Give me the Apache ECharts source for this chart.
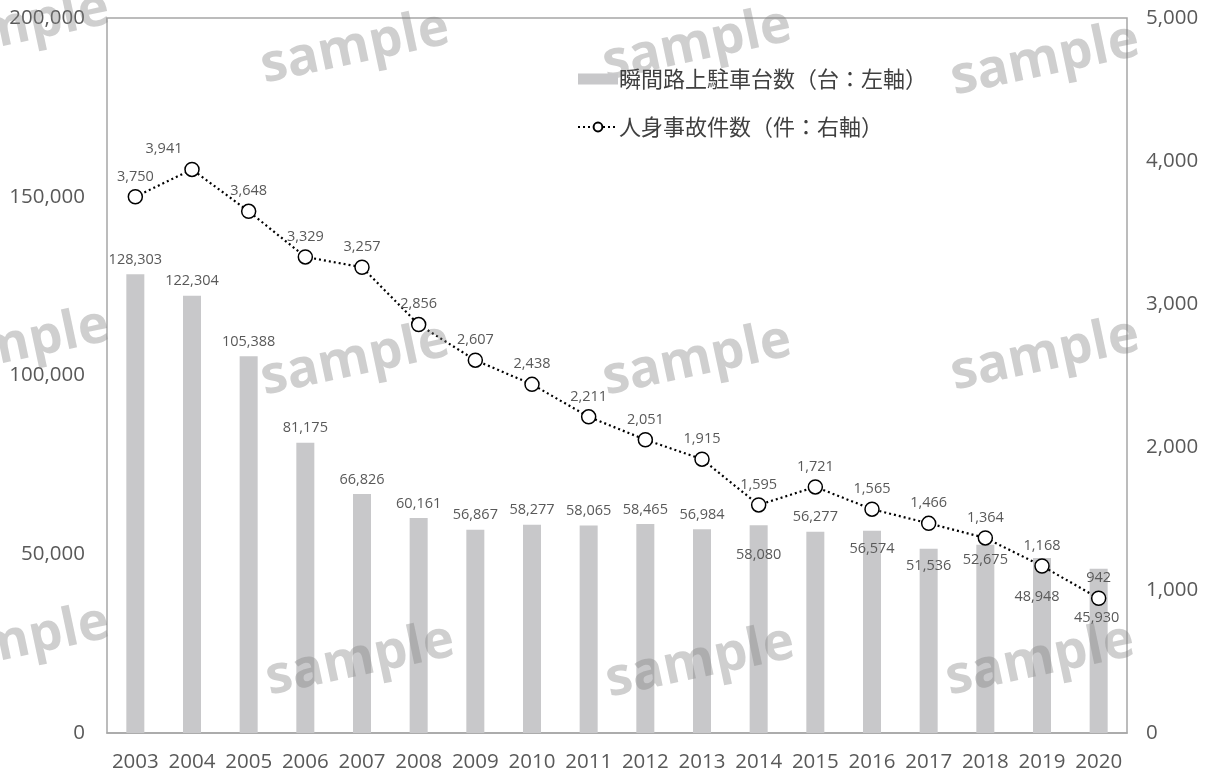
<!DOCTYPE html>
<html>
<head>
<meta charset="utf-8">
<script src="https://cdn.jsdelivr.net/npm/echarts@6/dist/echarts.min.js"></script>
<style>
  html, body { margin: 0; padding: 0; background: #fff; }
  #chart { width: 1207px; height: 774px; }
</style>
</head>
<body>
<div id="chart"></div>
<script>
// 年次
const years = ['2003','2004','2005','2006','2007','2008','2009','2010','2011','2012','2013','2014','2015','2016','2017','2018','2019','2020'];
// 瞬間路上駐車台数（台）
const parkedCars = [128303,122304,105388,81175,66826,60161,56867,58277,58065,58465,56984,58080,56277,56574,51536,52675,48948,45930];
// 人身事故件数（件）
const accidents = [3750,3941,3648,3329,3257,2856,2607,2438,2211,2051,1915,1595,1721,1565,1466,1364,1168,942];
// 軸目盛
const leftAxisMax = 200000, leftAxisStep = 50000;
const rightAxisMax = 5000, rightAxisStep = 1000;

const barName = '瞬間路上駐車台数（台：左軸）';
const lineName = '人身事故件数（件：右軸）';

const fmt = v => v.toLocaleString('en-US');
const labelColor = '#595959';
const baseFont = '"Open Sans", "Noto Sans", sans-serif';

// 折れ線と重なる年は棒ラベルを棒の内側へ下げる
const barLabelShift = { '2014': 31, '2016': 20, '2017': 19, '2018': 17, '2019': 40, '2020': 51 };
const barLabelShiftX = { '2019': -5, '2020': -2 };
const lineLabelShift = { '2004': -28 };

const barData = parkedCars.map((v, i) => {
  const y = years[i];
  if (barLabelShift[y] !== undefined) {
    return { value: v, label: { position: 'insideTop', distance: 0, offset: [barLabelShiftX[y] || 0, barLabelShift[y] - 9] } };
  }
  return v;
});
const lineData = accidents.map((v, i) => {
  const y = years[i];
  if (lineLabelShift[y] !== undefined) {
    return { value: v, label: { offset: [lineLabelShift[y], 0] } };
  }
  return v;
});

// 透かし文字
const stamps = [];
[[15, 28], [355, 48], [697, 45], [1045, 60],
 [15, 345], [355, 360], [697, 360], [1045, 355],
 [15, 642], [360, 660], [700, 662], [1040, 660]].forEach(([x, y]) => {
  stamps.push({
    type: 'text', x: x, y: y, rotation: 0.21, z: 100, silent: true,
    style: {
      text: 'sample', x: 0, y: 0, align: 'center', verticalAlign: 'middle',
      font: 'bold 53px "Open Sans", sans-serif',
      fill: 'rgba(130,130,130,0.38)',
      shadowBlur: 8, shadowColor: 'rgba(130,130,130,0.55)'
    }
  });
});

const chart = echarts.init(document.getElementById('chart'), null, { renderer: 'canvas' });
chart.setOption({
  backgroundColor: '#ffffff',
  animation: false,
  textStyle: { fontFamily: baseFont },
  grid: {
    left: 107, right: 80, top: 18, bottom: 41,
    show: true, borderColor: '#a6a6a6', borderWidth: 1.5, backgroundColor: 'transparent'
  },
  legend: {
    orient: 'vertical', left: 572, top: 63, itemGap: 26, z: 120,
    itemWidth: 40, itemHeight: 11,
    textStyle: { fontSize: 22, color: '#404040', fontFamily: '"Noto Sans CJK JP", sans-serif', padding: [0, 0, 0, -4] },
    data: [
      { name: barName, icon: 'rect' },
      { name: lineName }
    ]
  },
  xAxis: {
    type: 'category', data: years,
    axisLine: { show: true, lineStyle: { color: '#a6a6a6', width: 1.5 } },
    axisTick: { show: false },
    axisLabel: { color: labelColor, fontSize: 20.5, margin: 19, interval: 0 }
  },
  yAxis: [
    {
      type: 'value', min: 0, max: leftAxisMax, interval: leftAxisStep,
      splitLine: { show: false },
      axisLine: { show: false }, axisTick: { show: false },
      axisLabel: { color: labelColor, fontSize: 20.5, margin: 22, formatter: fmt }
    },
    {
      type: 'value', min: 0, max: rightAxisMax, interval: rightAxisStep,
      splitLine: { show: false },
      axisLine: { show: false }, axisTick: { show: false },
      axisLabel: { color: labelColor, fontSize: 20.5, margin: 19, formatter: fmt }
    }
  ],
  series: [
    {
      name: barName, type: 'bar', yAxisIndex: 0, data: barData,
      barWidth: 18,
      itemStyle: { color: '#c8c8ca' },
      label: { show: true, position: 'top', distance: 7, color: labelColor, fontSize: 14.5, formatter: p => fmt(p.value) }
    },
    {
      name: lineName, type: 'line', yAxisIndex: 1, data: lineData,
      symbol: 'circle', symbolSize: 14, z: 5,
      itemStyle: { color: '#ffffff', borderColor: '#000000', borderWidth: 1.5 },
      lineStyle: { color: '#000000', width: 2.2, type: [2, 3] },
      label: { show: true, position: 'top', distance: 5, color: labelColor, fontSize: 14.5, formatter: p => fmt(p.value) }
    }
  ],
  graphic: stamps
});
</script>
</body>
</html>
